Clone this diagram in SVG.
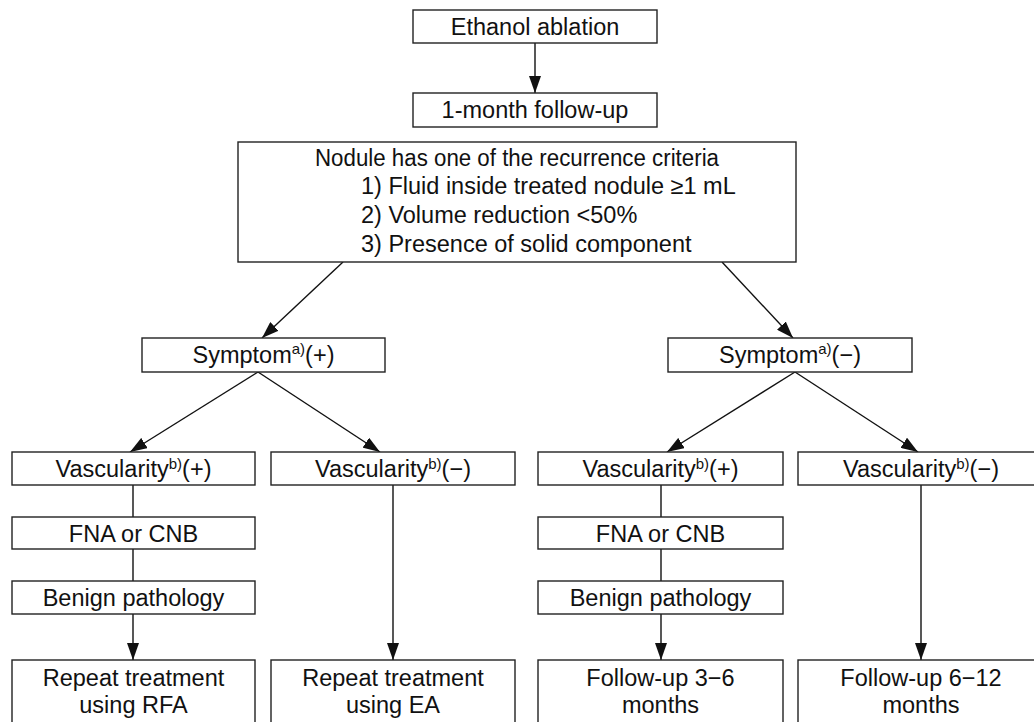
<svg xmlns="http://www.w3.org/2000/svg" width="1034" height="722" viewBox="0 0 1034 722">
<style>
  .box{fill:#fff;stroke:#222;stroke-width:1.4}
  .t{font-family:"Liberation Sans",Arial,sans-serif;font-size:23.5px;fill:#111;text-anchor:middle}
  .tl{font-family:"Liberation Sans",Arial,sans-serif;font-size:23.5px;fill:#111}
  .sup{font-size:15px}
  .c{stroke:#111;stroke-width:1.4;fill:none}
</style>
<defs>
  <marker id="ah" markerWidth="18" markerHeight="12" refX="17" refY="6" orient="auto" markerUnits="userSpaceOnUse">
    <path d="M0,0 L17,6 L0,12 Z" fill="#111"/>
  </marker>
</defs>
<rect width="1034" height="722" fill="#fff"/>
<g id="connectors">
  <line class="c" x1="535" y1="43" x2="535" y2="93" marker-end="url(#ah)"/>
  <line class="c" x1="343" y1="262" x2="262" y2="338" marker-end="url(#ah)"/>
  <line class="c" x1="722" y1="262" x2="793" y2="338" marker-end="url(#ah)"/>
  <line class="c" x1="258" y1="372" x2="130" y2="452" marker-end="url(#ah)"/>
  <line class="c" x1="258" y1="372" x2="380" y2="452" marker-end="url(#ah)"/>
  <line class="c" x1="795" y1="372" x2="667" y2="452" marker-end="url(#ah)"/>
  <line class="c" x1="795" y1="372" x2="918" y2="452" marker-end="url(#ah)"/>
  <line class="c" x1="133" y1="485" x2="133" y2="517"/>
  <line class="c" x1="133" y1="549" x2="133" y2="581"/>
  <line class="c" x1="133" y1="614" x2="133" y2="660" marker-end="url(#ah)"/>
  <line class="c" x1="393" y1="485" x2="393" y2="660" marker-end="url(#ah)"/>
  <line class="c" x1="661" y1="485" x2="661" y2="517"/>
  <line class="c" x1="661" y1="549" x2="661" y2="581"/>
  <line class="c" x1="661" y1="614" x2="661" y2="660" marker-end="url(#ah)"/>
  <line class="c" x1="921" y1="485" x2="921" y2="660" marker-end="url(#ah)"/>
</g>
<g id="n-ethanol">
  <rect class="box" x="413" y="10" width="244" height="33"/>
  <text class="t" x="535" y="35">Ethanol ablation</text>
</g>
<g id="n-followup1">
  <rect class="box" x="413" y="93" width="244" height="34"/>
  <text class="t" x="535" y="118">1-month follow-up</text>
</g>
<g id="n-criteria">
  <rect class="box" x="238" y="142" width="558" height="120"/>
  <text class="t" x="517" y="166" textLength="404" lengthAdjust="spacingAndGlyphs">Nodule has one of the recurrence criteria</text>
  <text class="tl" x="361" y="194">1) Fluid inside treated nodule ≥1 mL</text>
  <text class="tl" x="361" y="223">2) Volume reduction &lt;50%</text>
  <text class="tl" x="361" y="252">3) Presence of solid component</text>
</g>
<g id="n-symptom-pos">
  <rect class="box" x="142" y="338" width="243" height="34"/>
  <text class="t" x="263.5" y="363">Symptom<tspan class="sup" dy="-9">a)</tspan><tspan dy="9">(+)</tspan></text>
</g>
<g id="n-symptom-neg">
  <rect class="box" x="668" y="338" width="244" height="34"/>
  <text class="t" x="790" y="363">Symptom<tspan class="sup" dy="-9">a)</tspan><tspan dy="9">(−)</tspan></text>
</g>
<g id="n-vasc-pos-1">
  <rect class="box" x="12" y="452" width="243" height="33"/>
  <text class="t" x="133.5" y="477">Vascularity<tspan class="sup" dy="-8">b)</tspan><tspan dy="8">(+)</tspan></text>
</g>
<g id="n-vasc-neg-1">
  <rect class="box" x="271" y="452" width="244" height="33"/>
  <text class="t" x="393" y="477">Vascularity<tspan class="sup" dy="-8">b)</tspan><tspan dy="8">(−)</tspan></text>
</g>
<g id="n-fna-1">
  <rect class="box" x="12" y="517" width="243" height="32"/>
  <text class="t" x="133.5" y="542">FNA or CNB</text>
</g>
<g id="n-benign-1">
  <rect class="box" x="12" y="581" width="243" height="33"/>
  <text class="t" x="133.5" y="606">Benign pathology</text>
</g>
<g id="n-rfa">
  <rect class="box" x="12" y="660" width="243" height="70"/>
  <text class="t" x="133.5" y="686">Repeat treatment</text>
  <text class="t" x="133.5" y="713">using RFA</text>
</g>
<g id="n-ea">
  <rect class="box" x="271" y="660" width="244" height="70"/>
  <text class="t" x="393" y="686">Repeat treatment</text>
  <text class="t" x="393" y="713">using EA</text>
</g>
<g id="n-vasc-pos-2">
  <rect class="box" x="538" y="452" width="245" height="33"/>
  <text class="t" x="660.5" y="477">Vascularity<tspan class="sup" dy="-8">b)</tspan><tspan dy="8">(+)</tspan></text>
</g>
<g id="n-vasc-neg-2">
  <rect class="box" x="798" y="452" width="246" height="33"/>
  <text class="t" x="921" y="477">Vascularity<tspan class="sup" dy="-8">b)</tspan><tspan dy="8">(−)</tspan></text>
</g>
<g id="n-fna-2">
  <rect class="box" x="538" y="517" width="245" height="32"/>
  <text class="t" x="660.5" y="542">FNA or CNB</text>
</g>
<g id="n-benign-2">
  <rect class="box" x="538" y="581" width="245" height="33"/>
  <text class="t" x="660.5" y="606">Benign pathology</text>
</g>
<g id="n-fu36">
  <rect class="box" x="538" y="660" width="245" height="70"/>
  <text class="t" x="660.5" y="686">Follow-up 3−6</text>
  <text class="t" x="660.5" y="713">months</text>
</g>
<g id="n-fu612">
  <rect class="box" x="798" y="660" width="246" height="70"/>
  <text class="t" x="921" y="686">Follow-up 6−12</text>
  <text class="t" x="921" y="713">months</text>
</g>
</svg>
